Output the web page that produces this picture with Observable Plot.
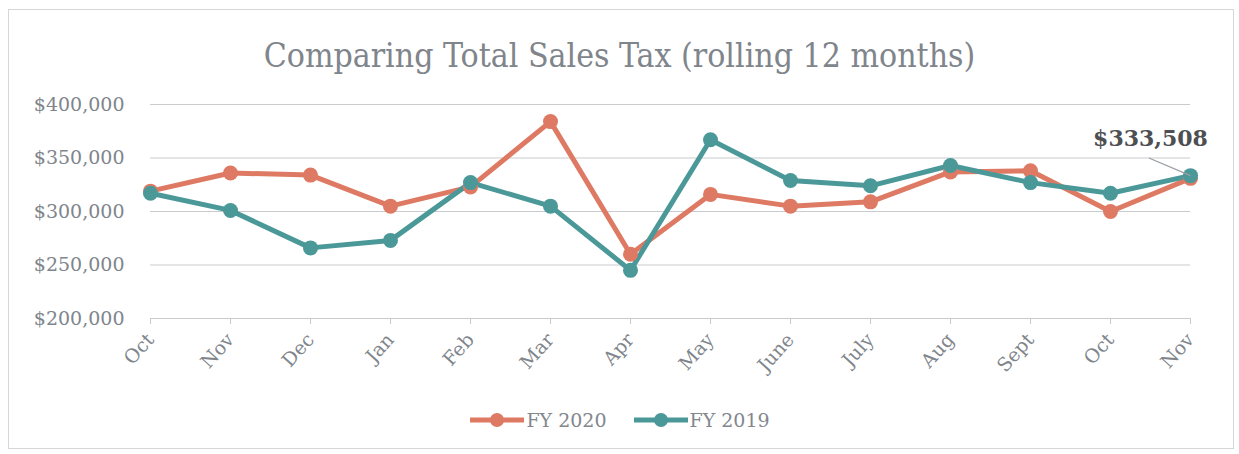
<!DOCTYPE html>
<html>
<head>
<meta charset="utf-8">
<script src="https://cdn.jsdelivr.net/npm/d3@7"></script>
<script src="https://cdn.jsdelivr.net/npm/@observablehq/plot@0.6"></script>
<style>
  html, body { margin: 0; padding: 0; background: #fff; }
  #wrap { position: relative; width: 1239px; height: 454px; overflow: hidden; background: #fff; }
  #frame { position: absolute; left: 8px; top: 9px; width: 1226px; height: 440px; border: 1px solid #d4d6d8; box-sizing: border-box; }
  #title { position: absolute; left: 0; top: 36px; width: 1239px; text-align: center;
    font-family: "DejaVu Serif Condensed", "DejaVu Serif", serif; font-size: 33.5px; color: #80858c; line-height: 40px; }
  #chart { position: absolute; left: 0; top: 0; }
  #legend { position: absolute; left: 0; top: 409px; width: 1239px; display: flex; justify-content: center; gap: 26px;
    font-family: "DejaVu Serif", serif; font-size: 19px; color: #82878e; }
  .item { display: flex; align-items: center; gap: 1px; }
</style>
</head>
<body>
<div id="wrap">
  <div id="frame"></div>
  <div id="chart"></div>
  <div id="title">Comparing Total Sales Tax (rolling 12 months)</div>
  <div id="legend"></div>
</div>
<script>
const months = ["Oct","Nov","Dec","Jan","Feb","Mar","Apr","May","June","July","Aug","Sept","Oct","Nov"];
const fy2020 = [319000, 336000, 334000, 305000, 323000, 384000, 260000, 316000, 305000, 309000, 337000, 338000, 300000, 331000];
const fy2019 = [317000, 301000, 266000, 273000, 327000, 305000, 245000, 367000, 329000, 324000, 343000, 327000, 317000, 333508];
const seriesNames = ["FY 2020", "FY 2019"];
const seriesColors = ["#de7a63", "#4b9899"];
const yTicks = [200000, 250000, 300000, 350000, 400000];

const rows = [];
months.forEach((m, i) => {
  rows.push({i, series: seriesNames[0], value: fy2020[i]});
  rows.push({i, series: seriesNames[1], value: fy2019[i]});
});
const last = months.length - 1;
const labelPoint = [{i: last, value: fy2019[last]}];
const leader = [{x1: last - 0.52, y1: fy2019[last] + 16500, x2: last, y2: fy2019[last]}];

const fmt = d3.format("$,");
const font = '"DejaVu Serif", serif';

const chart = Plot.plot({
  width: 1239,
  height: 454,
  marginLeft: 150,
  marginRight: 49,
  marginTop: 104,
  marginBottom: 136,
  style: {fontFamily: font, color: "#82878e", background: "transparent"},
  x: {type: "linear", domain: [0, last], label: null},
  y: {domain: [200000, 400000], label: null},
  color: {domain: seriesNames, range: seriesColors},
  marks: [
    Plot.gridY(yTicks, {stroke: "#c9cbce", strokeOpacity: 1, strokeWidth: 1}),
    Plot.axisY({ticks: yTicks, tickFormat: fmt, tickSize: 0, tickPadding: 26, fontSize: 19, fill: "#80858c", label: null}),
    Plot.axisX({ticks: d3.range(months.length), tickFormat: i => months[i], tickRotate: -48, tickSize: 6, tickPadding: 12,
      fontSize: 19, fill: "#80858c", stroke: "#c9cbce", label: null}),
    Plot.line(rows, {x: "i", y: "value", z: "series", stroke: "series", strokeWidth: 5, strokeLinejoin: "round"}),
    Plot.dot(rows, {x: "i", y: "value", fill: "series", r: 7.5}),
    Plot.link(leader, {x1: "x1", y1: "y1", x2: "x2", y2: "y2", stroke: "#9a9ea3", strokeWidth: 1.2}),
    Plot.text(labelPoint, {x: "i", y: "value", text: d => fmt(d.value), dx: -40, dy: -37,
      fontSize: 22, fontWeight: "bold", fill: "#4d4f52"})
  ]
});
document.getElementById("chart").appendChild(chart);

const legend = document.getElementById("legend");
seriesNames.forEach((name, k) => {
  const item = document.createElement("div");
  item.className = "item";
  item.innerHTML = `<svg width="56" height="16"><line x1="1" y1="8" x2="55" y2="8" stroke="${seriesColors[k]}" stroke-width="5"/><circle cx="28" cy="8" r="7" fill="${seriesColors[k]}"/></svg><span>${name}</span>`;
  legend.appendChild(item);
});
</script>
</body>
</html>
